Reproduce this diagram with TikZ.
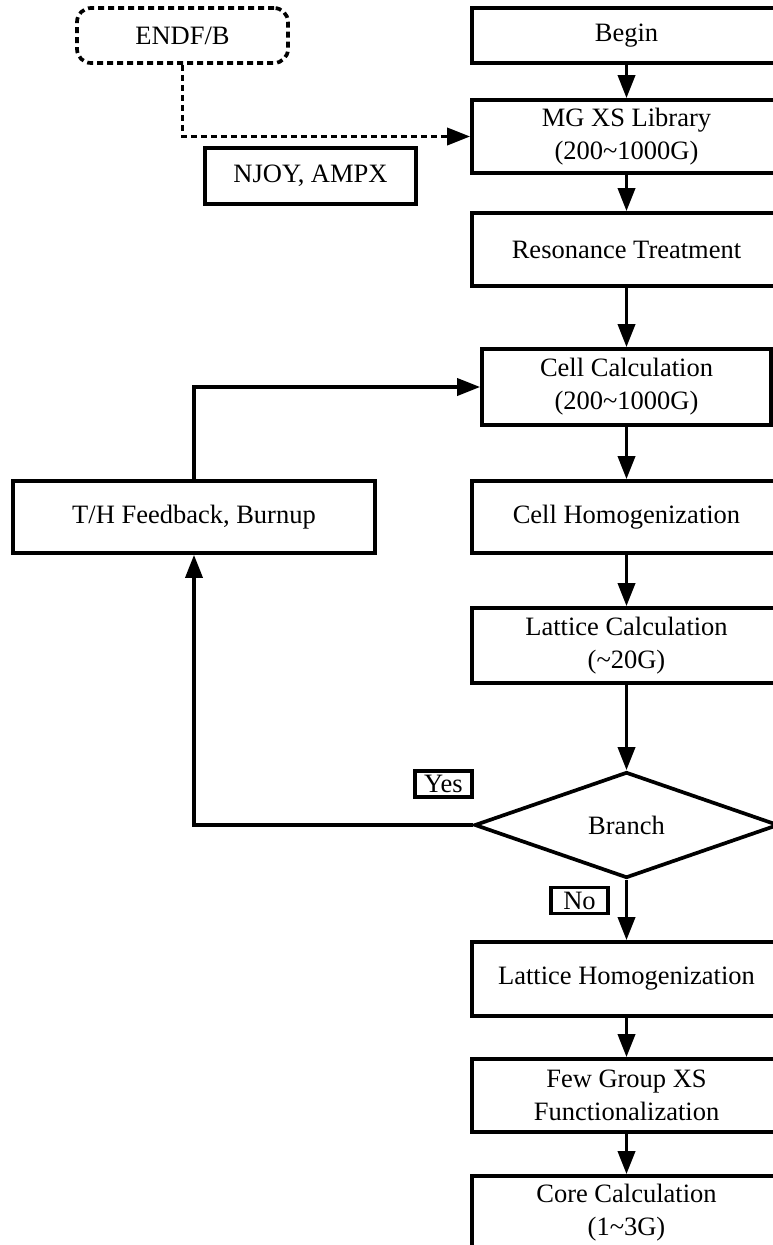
\documentclass[tikz,border=0pt]{standalone}
\usepackage{fontspec}
\setmainfont{Liberation Serif}
\usetikzlibrary{arrows.meta,shapes.geometric}
\newcommand\myfs{\fontsize{26.5}{33}\selectfont}
\begin{document}
\begin{tikzpicture}[x=1pt,y=-1pt]
\tikzset{
  box/.style={draw, line width=3.7pt, inner sep=0pt, align=center, font=\myfs},
  colbox/.style={box, minimum width=309pt, minimum height=#1},
  arr/.style={line width=3.6pt, -{Triangle[length=23pt,width=17pt]}},
  darr/.style={arr, dash pattern=on 6pt off 4pt},
  lbl/.style={draw, line width=3.2pt, inner sep=0pt, minimum width=57pt, minimum height=26pt, font=\myfs}
}
\useasboundingbox (0,0) rectangle (773,1245);

\node[box, dash pattern=on 6pt off 4pt, rounded corners=14pt, minimum width=211pt, minimum height=55pt] (endf) at (182.5,35.5) {ENDF/B};
\node[colbox=55pt] (begin) at (626.5,35.5) {Begin};
\node[colbox=73pt] (mg) at (626.5,136.5) {MG XS Library\\(200\textasciitilde1000G)};
\node[box, minimum width=211pt, minimum height=56pt] (njoy) at (310.5,176) {NJOY, AMPX};
\node[colbox=73pt] (res) at (626.5,249.5) {Resonance Treatment};
\node[box, minimum width=289pt, minimum height=76pt] (cc) at (626.5,387) {Cell Calculation\\(200\textasciitilde1000G)};
\node[box, minimum width=362pt, minimum height=72pt] (th) at (194,517) {T/H Feedback, Burnup};
\node[colbox=72pt] (ch) at (626.5,517) {Cell Homogenization};
\node[colbox=75pt] (lc) at (626.5,645.5) {Lattice Calculation\\(\textasciitilde20G)};
\node[diamond, draw, line width=3.7pt, inner sep=0pt, minimum width=304pt, minimum height=106pt, font=\myfs] (br) at (626.5,825) {Branch};
\node[colbox=74pt] (lh) at (626.5,979) {Lattice Homogenization};
\node[colbox=73pt] (fg) at (626.5,1095.5) {Few Group XS\\Functionalization};
\node[colbox=73pt] (core) at (626.5,1212.5) {Core Calculation\\(1\textasciitilde3G)};
\node[lbl] (yes) at (443.5,784) {Yes};
\node[lbl] (no) at (579.5,900.5) {No};

\draw[arr] (begin) -- (mg);
\draw[arr] (mg) -- (res);
\draw[arr] (res) -- (cc);
\draw[arr] (cc) -- (ch);
\draw[arr] (ch) -- (lc);
\draw[arr] (lc) -- (br);
\draw[arr] (br) -- (lh);
\draw[arr] (lh) -- (fg);
\draw[arr] (fg) -- (core);
\draw[darr] (endf.south) |- (mg.west);
\draw[arr] (br.west) -| (th.south);
\draw[arr] (th.north) |- (cc.west);
\end{tikzpicture}
\end{document}
